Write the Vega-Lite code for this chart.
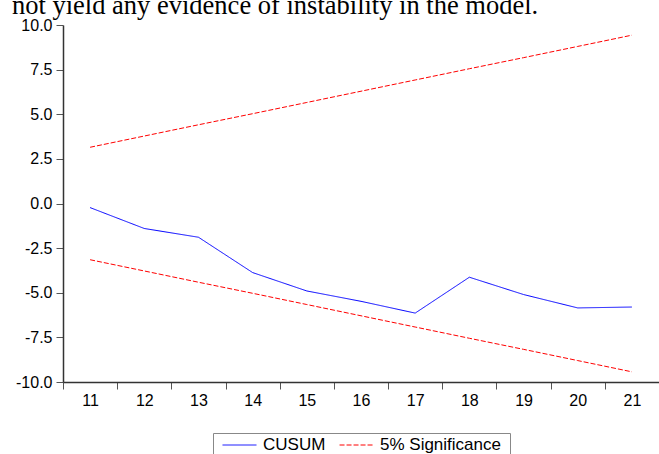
{
  "$schema": "https://vega.github.io/schema/vega-lite/v6.json",
  "autosize": {"type": "none"},
  "padding": {"left": 63, "top": 25, "right": 0, "bottom": 72},
  "width": 596,
  "height": 357,
  "background": "white",
  "title": {
    "text": "not yield any evidence of instability in the model.",
    "font": "Liberation Serif",
    "fontSize": 26.5,
    "fontWeight": "normal",
    "color": "black",
    "anchor": "start",
    "frame": "group",
    "orient": "top",
    "baseline": "alphabetic",
    "dx": -51,
    "dy": 27,
    "offset": 4
  },
  "config": {
    "view": {"stroke": null},
    "axis": {
      "labelFont": "Liberation Sans",
      "labelFontSize": 16,
      "labelColor": "black",
      "tickColor": "#555",
      "tickSize": 7,
      "domainColor": "#333",
      "domainWidth": 1.5,
      "grid": false,
      "title": null
    }
  },
  "datasets": {
    "main": [
      {"t": 11, "value": -0.23, "series": "CUSUM", "line": "cusum"},
      {"t": 12, "value": -1.40, "series": "CUSUM", "line": "cusum"},
      {"t": 13, "value": -1.89, "series": "CUSUM", "line": "cusum"},
      {"t": 14, "value": -3.87, "series": "CUSUM", "line": "cusum"},
      {"t": 15, "value": -4.90, "series": "CUSUM", "line": "cusum"},
      {"t": 16, "value": -5.48, "series": "CUSUM", "line": "cusum"},
      {"t": 17, "value": -6.14, "series": "CUSUM", "line": "cusum"},
      {"t": 18, "value": -4.13, "series": "CUSUM", "line": "cusum"},
      {"t": 19, "value": -5.10, "series": "CUSUM", "line": "cusum"},
      {"t": 20, "value": -5.85, "series": "CUSUM", "line": "cusum"},
      {"t": 21, "value": -5.80, "series": "CUSUM", "line": "cusum"},
      {"t": 11, "value": 3.15, "series": "5% Significance", "line": "upper"},
      {"t": 12, "value": 3.78, "series": "5% Significance", "line": "upper"},
      {"t": 13, "value": 4.41, "series": "5% Significance", "line": "upper"},
      {"t": 14, "value": 5.03, "series": "5% Significance", "line": "upper"},
      {"t": 15, "value": 5.66, "series": "5% Significance", "line": "upper"},
      {"t": 16, "value": 6.29, "series": "5% Significance", "line": "upper"},
      {"t": 17, "value": 6.92, "series": "5% Significance", "line": "upper"},
      {"t": 18, "value": 7.55, "series": "5% Significance", "line": "upper"},
      {"t": 19, "value": 8.17, "series": "5% Significance", "line": "upper"},
      {"t": 20, "value": 8.80, "series": "5% Significance", "line": "upper"},
      {"t": 21, "value": 9.43, "series": "5% Significance", "line": "upper"},
      {"t": 11, "value": -3.15, "series": "5% Significance", "line": "lower"},
      {"t": 12, "value": -3.78, "series": "5% Significance", "line": "lower"},
      {"t": 13, "value": -4.41, "series": "5% Significance", "line": "lower"},
      {"t": 14, "value": -5.03, "series": "5% Significance", "line": "lower"},
      {"t": 15, "value": -5.66, "series": "5% Significance", "line": "lower"},
      {"t": 16, "value": -6.29, "series": "5% Significance", "line": "lower"},
      {"t": 17, "value": -6.92, "series": "5% Significance", "line": "lower"},
      {"t": 18, "value": -7.55, "series": "5% Significance", "line": "lower"},
      {"t": 19, "value": -8.17, "series": "5% Significance", "line": "lower"},
      {"t": 20, "value": -8.80, "series": "5% Significance", "line": "lower"},
      {"t": 21, "value": -9.43, "series": "5% Significance", "line": "lower"}
    ]
  },
  "layer": [
    {
      "mark": {"type": "rule", "color": "black", "strokeWidth": 1},
      "encoding": {"y": {"datum": 0, "type": "quantitative"}}
    },
    {
      "mark": {"type": "rule", "color": "#222", "strokeWidth": 1.5},
      "encoding": {"y": {"datum": 10, "type": "quantitative"}}
    },
    {
      "data": {"name": "main"},
      "mark": {"type": "line", "strokeWidth": 1},
      "encoding": {
        "x": {
          "field": "t",
          "type": "ordinal",
          "scale": {"type": "band", "paddingInner": 0, "paddingOuter": 0},
          "axis": {"tickBand": "extent", "labelAngle": 0, "labelPadding": 3}
        },
        "y": {
          "field": "value",
          "type": "quantitative",
          "scale": {"domain": [-10, 10], "nice": false, "zero": false},
          "axis": {
            "values": [-10, -7.5, -5, -2.5, 0, 2.5, 5, 7.5, 10],
            "labelExpr": "replace(format(datum.value, '.1f'), '\u2212', '-')",
            "labelPadding": 4
          }
        },
        "color": {
          "field": "series",
          "type": "nominal",
          "scale": {"domain": ["CUSUM", "5% Significance"], "range": ["#0000ff", "#ff0000"]},
          "legend": {
            "title": null,
            "orient": "none",
            "direction": "horizontal",
            "legendX": 150,
            "legendY": 408,
            "symbolType": "stroke",
            "symbolSize": 1150,
            "symbolStrokeWidth": 1,
            "clipHeight": 6,
            "labelFont": "Liberation Sans",
            "labelFontSize": 17,
            "labelColor": "black",
            "labelOffset": 6,
            "columnPadding": 13,
            "strokeColor": "#888",
            "padding": 9,
            "fillColor": "white"
          }
        },
        "strokeDash": {
          "field": "series",
          "type": "nominal",
          "scale": {"domain": ["CUSUM", "5% Significance"], "range": [[1, 0], [5, 2]]},
          "legend": null
        },
        "detail": {"field": "line"}
      }
    }
  ]
}
